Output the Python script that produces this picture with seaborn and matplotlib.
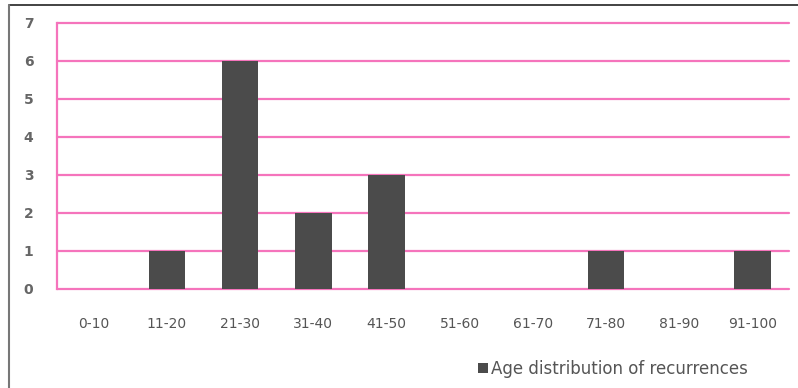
import matplotlib
matplotlib.use("Agg")
import matplotlib.pyplot as plt
from matplotlib.lines import Line2D
from matplotlib.patches import Patch
import seaborn as sns
import pandas as pd

age_groups = ["0-10", "11-20", "21-30", "31-40", "41-50",
              "51-60", "61-70", "71-80", "81-90", "91-100"]
recurrences = [0, 1, 6, 2, 3, 0, 0, 1, 0, 1]
y_ticks = [0, 1, 2, 3, 4, 5, 6, 7]
series_name = "Age distribution of recurrences"

bar_color = "#4b4b4b"
grid_color = "#f574bc"
text_color = "#555555"

sns.set_theme(style="white")
plt.rcParams["font.family"] = ["DejaVu Sans"]

df = pd.DataFrame({"age": age_groups, "count": recurrences})

fig = plt.figure(figsize=(7.98, 3.88), dpi=100)
W, H = 798, 388
ax = fig.add_axes([57 / W, 1 - 288.5 / H, (789 - 57) / W, (288.5 - 22.5) / H])

sns.barplot(data=df, x="age", y="count", color=bar_color, width=0.5,
            saturation=1, linewidth=0, ax=ax, zorder=3)

ax.set_ylim(0, 7)
ax.set_xlim(-0.5, len(age_groups) - 0.5)
ax.set_yticks(y_ticks)
ax.yaxis.grid(True, color=grid_color, lw=1.6, zorder=2)
for gl in ax.get_ygridlines():
    gl.set_clip_on(False)
ax.set_axisbelow(True)

for side in ["top", "right", "bottom"]:
    ax.spines[side].set_visible(False)
ax.spines["left"].set_color(grid_color)
ax.spines["left"].set_linewidth(1.6)

ax.set_xlabel("")
ax.set_ylabel("")
ax.tick_params(axis="x", length=0, pad=20.5, labelsize=10, labelcolor=text_color)
ax.tick_params(axis="y", length=0, pad=17, labelsize=10, labelcolor="#666666")
for lbl in ax.get_yticklabels():
    lbl.set_fontweight("bold")

# outer frame lines along top and left edge
fig.add_artist(Line2D([8.5 / W, 1], [1 - 4.5 / H, 1 - 4.5 / H],
                      transform=fig.transFigure, color="#222222", lw=1.2))
fig.add_artist(Line2D([8.5 / W, 8.5 / W], [0, 1 - 4.5 / H],
                      transform=fig.transFigure, color="#777777", lw=1.5))

handle = Patch(facecolor=bar_color, edgecolor="none")
fig.legend([handle], [series_name], loc="center left",
           bbox_to_anchor=(463 / W, 1 - 369 / H), frameon=False,
           fontsize=12, handlelength=0.6, handleheight=0.6, handletextpad=0.2,
           labelcolor=text_color)

fig.savefig("out.png", dpi=100)
